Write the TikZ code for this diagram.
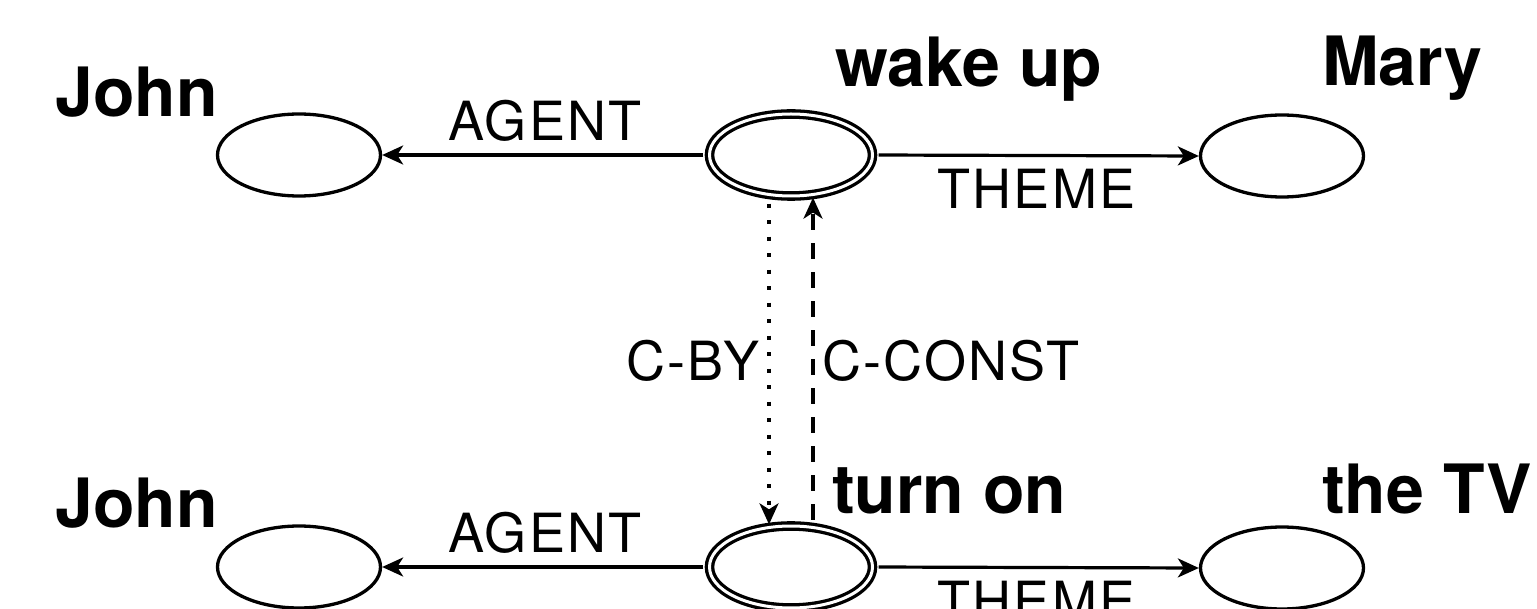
\documentclass[tikz,border=0pt]{standalone}
\usepackage{fontspec}
\setmainfont{TeX Gyre Heros}
\usetikzlibrary{arrows.meta,shapes.geometric}
\tikzset{
  concept/.style={ellipse, draw, line width=3.3pt, minimum width=163pt, minimum height=82pt, inner sep=0pt},
  event/.style={concept, double, double distance=3pt},
  head/.style={inner sep=0pt, anchor=base west, font=\fontsize{68}{80}\selectfont\bfseries},
  role/.style={inner sep=0pt, font=\addfontfeatures{LetterSpace=4}\fontsize{54}{64}\selectfont},
  rel/.style={line width=3.2pt, -{Stealth[length=21pt, width=19pt, inset=6pt]}},
}
\begin{document}
\begin{tikzpicture}[x=1pt, y=-1pt]
\useasboundingbox (0,0) rectangle (1537,609);

% upper frame: John wakes Mary up
\node[concept] (agentA) at (299,155) {};
\node[event]   (wake)   at (791,155) {};
\node[concept] (themeA) at (1282,156) {};
\node[head] (johnA) at (55,117) {John};
\node[head] (wakeL) at (835,87) {wake up};
\node[head] (mary)  at (1322,86) {Mary};

% lower frame: John turns on the TV
\node[concept] (agentB) at (299,567) {};
\node[event]   (turn)   at (791,567) {};
\node[concept] (themeB) at (1282,568) {};
\node[head] (johnB) at (55,527) {John};
\node[head] (turnL) at (832,513) {turn on};
\node[head] (tv)    at (1322,513) {the TV};

% role edges
\draw[rel, shorten <=4.5pt] (wake.west) -- (agentA.east)
  node[role, midway, above=12pt] (agentLA) {AGENT};
\draw[rel, shorten <=4.5pt] (wake.east) -- (themeA.west)
  node[role, midway, below=12pt] (themeLA) {THEME};
\draw[rel, shorten <=4.5pt] (turn.west) -- (agentB.east)
  node[role, midway, above=12pt] (agentLB) {AGENT};
\draw[rel, shorten <=4.5pt] (turn.east) -- (themeB.west)
  node[role, midway, below=12pt] (themeLB) {THEME};

% causal links between the two events
\coordinate (byX) at (769,0);
\coordinate (constX) at (813,0);
\draw[rel, dash pattern=on 4pt off 12.5pt, shorten <=6pt] (wake.south -| byX) -- (turn.north -| byX)
  node[role, pos=0.5, left=8pt] (cby) {C-BY};
\draw[rel, dash pattern=on 16pt off 13pt, shorten <=4.5pt] (turn.north -| constX) -- (wake.south -| constX)
  node[role, pos=0.5, right=8pt] (cconst) {C-CONST};
\end{tikzpicture}
\end{document}
